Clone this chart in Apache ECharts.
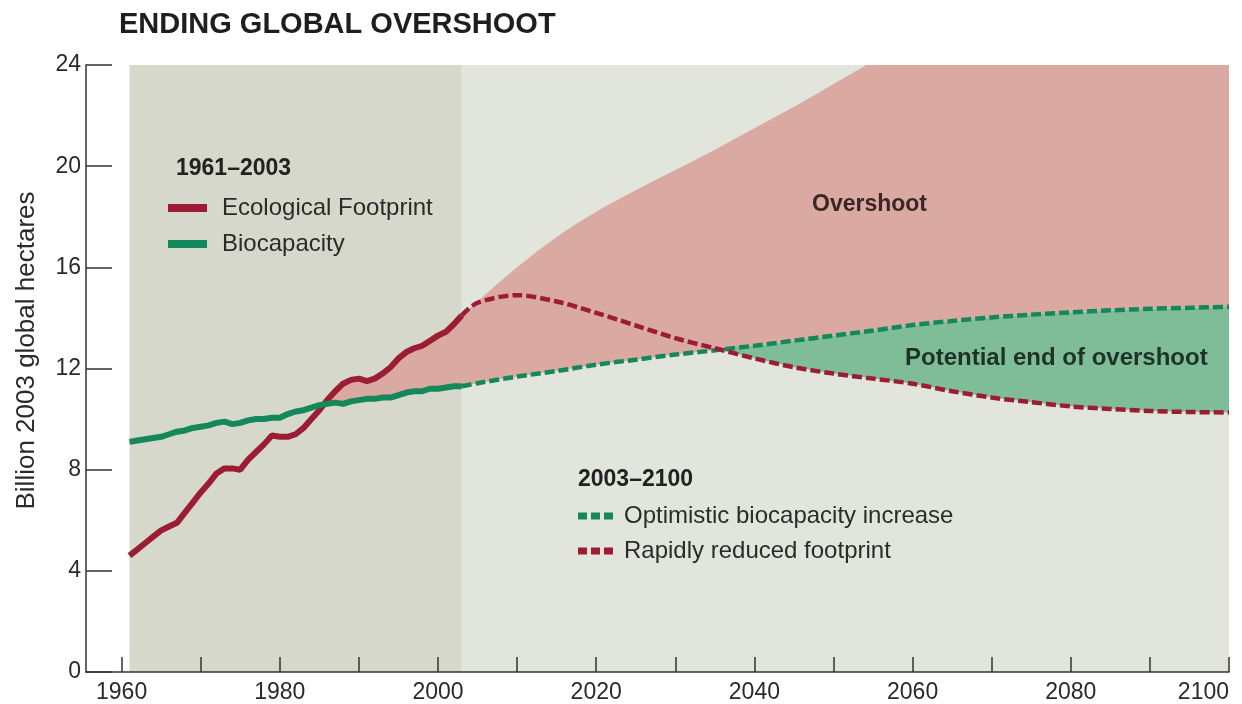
<!DOCTYPE html>
<html><head><meta charset="utf-8">
<script src="https://cdn.jsdelivr.net/npm/echarts@6/dist/echarts.min.js"></script>
<style>html,body{margin:0;padding:0;background:#fff}#c{width:1242px;height:704px}</style>
</head><body><div id="c"></div>
<script>
// ---- data ----
const histYears = [1961,1962,1963,1964,1965,1966,1967,1968,1969,1970,1971,1972,1973,1974,1975,1976,1977,1978,1979,1980,1981,1982,1983,1984,1985,1986,1987,1988,1989,1990,1991,1992,1993,1994,1995,1996,1997,1998,1999,2000,2001,2002,2003];
const footprintHist = [4.6,4.85,5.1,5.35,5.6,5.75,5.9,6.3,6.7,7.1,7.45,7.85,8.05,8.05,8.0,8.4,8.7,9.0,9.35,9.3,9.3,9.4,9.65,10.0,10.35,10.75,11.1,11.4,11.55,11.6,11.5,11.6,11.8,12.05,12.4,12.65,12.8,12.9,13.1,13.3,13.45,13.75,14.1];
const biocapacityHist = [9.1,9.15,9.2,9.25,9.3,9.4,9.5,9.55,9.65,9.7,9.75,9.85,9.9,9.8,9.85,9.95,10.0,10.0,10.05,10.05,10.2,10.3,10.35,10.45,10.55,10.6,10.65,10.6,10.7,10.75,10.8,10.8,10.85,10.85,10.95,11.05,11.1,11.1,11.2,11.2,11.25,11.3,11.3];
const projYears = [2003,2005,2010,2015,2020,2025,2030,2035,2040,2045,2050,2055,2060,2065,2070,2075,2080,2085,2090,2095,2100];
const footprintReduced = [14.1,14.6,14.9,14.65,14.2,13.7,13.2,12.8,12.4,12.05,11.8,11.6,11.4,11.1,10.85,10.67,10.5,10.4,10.32,10.28,10.26];
const biocapacityOptimistic = [11.3,11.42,11.68,11.9,12.15,12.35,12.55,12.72,12.9,13.1,13.3,13.5,13.72,13.88,14.02,14.13,14.22,14.3,14.36,14.4,14.44];
const footprintBusinessAsUsual = [14.1,14.65,16.0,17.2,18.2,19.05,19.85,20.65,21.5,22.35,23.25,24.15,25.05,25.95,26.85,27.75,28.65,29.55,30.45,31.35,32.25];
const periodBounds = [1961, 2003, 2100];
const xTickYears = [1960,1970,1980,1990,2000,2010,2020,2030,2040,2050,2060,2070,2080,2090,2100];
const xLabelYears = [1960,1980,2000,2020,2040,2060,2080,2100];
const yTicks = [0,4,8,12,16,20,24];

// ---- build ----
const FONT = 'Liberation Sans, Arial, Helvetica, sans-serif';
const RED = '#9b1c33', GREEN = '#14885b';
const PERIOD_COLORS = ['#d5d8ca', '#e2e5dc'];
const pair = (xs, ys) => xs.map((x, i) => [x, ys[i]]);
const allYears = histYears.concat(projYears.slice(1));
const bioAll = biocapacityHist.concat(biocapacityOptimistic.slice(1));
const upperAll = footprintHist.concat(footprintBusinessAsUsual.slice(1));
// rows: [year, lower, upper]
const overshootBand = allYears.map((x, i) => [x, bioAll[i], Math.max(bioAll[i], upperAll[i])]);
const endBand = projYears.map((x, i) => [x, footprintReduced[i], Math.max(footprintReduced[i], biocapacityOptimistic[i])]);
const periods = [[periodBounds[0], periodBounds[1]], [periodBounds[1], periodBounds[2]]];
const yMin = yTicks[0], yMax = yTicks[yTicks.length - 1];

function clipRect(params) {
  const cs = params.coordSys;
  return { type: 'rect', shape: { x: cs.x, y: cs.y, width: cs.width, height: cs.height } };
}
// monotone-in-x cubic Hermite curve through pixel points
function smoothSegments(pts) {
  const n = pts.length, m = [];
  for (let i = 0; i < n; i++) {
    const a = pts[Math.max(0, i - 1)], b = pts[Math.min(n - 1, i + 1)];
    m.push((b[1] - a[1]) / (b[0] - a[0]));
  }
  let d = '';
  for (let i = 0; i < n - 1; i++) {
    const p = pts[i], q = pts[i + 1], h = (q[0] - p[0]) / 3;
    d += ' C' + (p[0] + h) + ',' + (p[1] + m[i] * h) + ' ' + (q[0] - h) + ',' + (q[1] - m[i + 1] * h) + ' ' + q[0] + ',' + q[1];
  }
  return d;
}
function bandRenderer(color, smoothTop) {
  return function (params, api) {
    if (params.dataIndexInside !== 0) return null;
    const n = params.dataInsideLength;
    const top = [], bot = [];
    for (let j = 0; j < n; j++) {
      const x = api.value(0, j);
      bot.push(api.coord([x, api.value(1, j)]));
      top.push(api.coord([x, api.value(2, j)]));
    }
    if (!smoothTop) {
      return { type: 'polygon', clipPath: clipRect(params), shape: { points: top.concat(bot.reverse()) },
        style: { fill: color, stroke: null } };
    }
    let d = 'M' + top[0][0] + ',' + top[0][1] + smoothSegments(top);
    for (let j = n - 1; j >= 0; j--) d += ' L' + bot[j][0] + ',' + bot[j][1];
    d += ' Z';
    return { type: 'path', clipPath: clipRect(params), shape: { pathData: d }, style: { fill: color, stroke: null } };
  };
}

const chart = echarts.init(document.getElementById('c'));
chart.setOption({
  animation: false,
  backgroundColor: '#ffffff',
  title: { text: 'ENDING GLOBAL OVERSHOOT', left: 119, top: 10, padding: 0,
    textStyle: { fontSize: 29, fontWeight: 'bold', color: '#1e1e1e', fontFamily: FONT } },
  grid: { left: 86, right: 13, top: 65, bottom: 32, containLabel: false, outerBoundsMode: 'none' },
  xAxis: {
    type: 'value', min: 1955.5, max: 2100,
    axisLine: { show: true, lineStyle: { color: '#333', width: 1.5 } },
    axisTick: { show: true, inside: true, length: 15, customValues: xTickYears, lineStyle: { color: '#333', width: 1.5 } },
    axisLabel: { customValues: xLabelYears, fontSize: 23, color: '#2a2a2a', margin: 9, fontFamily: FONT,
      formatter: v => String(v), alignMaxLabel: 'right' },
    splitLine: { show: false }
  },
  yAxis: {
    type: 'value', min: yMin, max: yMax, interval: 4,
    name: 'Billion 2003 global hectares', nameLocation: 'middle', nameGap: 46,
    nameTextStyle: { fontSize: 26, color: '#2a2a2a', fontFamily: FONT, padding: [0, 0, 0, 36] },
    axisLine: { show: true, lineStyle: { color: '#333', width: 1.5 } },
    axisTick: { show: true, inside: true, length: 26, lineStyle: { color: '#333', width: 1.5 } },
    axisLabel: { fontSize: 23, color: '#2a2a2a', margin: 5, fontFamily: FONT },
    splitLine: { show: false }
  },
  legend: [
    { data: ['Ecological Footprint', 'Biocapacity'], orient: 'vertical', left: 168, top: 196, padding: 0,
      icon: 'rect', itemWidth: 39, itemHeight: 8, itemGap: 12, selectedMode: false,
      itemStyle: { borderWidth: 0 },
      textStyle: { fontSize: 24, color: '#2b2b2b', fontFamily: FONT, padding: [0, 0, 0, 10] } },
    { data: ['Optimistic biocapacity increase', 'Rapidly reduced footprint'], orient: 'vertical', left: 578, top: 504, padding: 0,
      icon: 'path://M0,0h9v7h-9z M13,0h9v7h-9z M26,0h9v7h-9z', itemWidth: 35, itemHeight: 7, itemGap: 11, selectedMode: false,
      itemStyle: { borderWidth: 0 },
      textStyle: { fontSize: 24, color: '#2b2b2b', fontFamily: FONT, padding: [0, 0, 0, 6] } }
  ],
  graphic: [
    { type: 'text', left: 176, top: 157, z: 100, style: { text: '1961–2003', font: 'bold 23px ' + FONT, fill: '#222' } },
    { type: 'text', left: 578, top: 468, z: 100, style: { text: '2003–2100', font: 'bold 23px ' + FONT, fill: '#222' } },
    { type: 'text', left: 812, top: 193, z: 100, style: { text: 'Overshoot', font: 'bold 23px ' + FONT, fill: '#3a2626' } },
    { type: 'text', left: 905, top: 346, z: 100, style: { text: 'Potential end of overshoot', font: 'bold 24px ' + FONT, fill: '#1d3326' } }
  ],
  series: [
    { name: 'periods', type: 'custom', data: periods, encode: { x: [0, 1] }, z: 0, silent: true,
      renderItem: function (params, api) {
        const p0 = api.coord([api.value(0), yMax]);
        const p1 = api.coord([api.value(1), yMin]);
        return { type: 'rect', shape: { x: p0[0], y: p0[1], width: p1[0] - p0[0], height: p1[1] - p0[1] },
          style: { fill: PERIOD_COLORS[params.dataIndex], stroke: null } };
      } },
    { name: 'Overshoot', type: 'custom', data: overshootBand, encode: { x: 0, y: [1, 2] }, z: 1, silent: true,
      renderItem: bandRenderer('#daa9a1', true) },
    { name: 'Potential end of overshoot', type: 'custom', data: endBand, encode: { x: 0, y: [1, 2] }, z: 1, silent: true,
      renderItem: bandRenderer('#7fbd98', false) },
    { name: 'Ecological Footprint', type: 'line', data: pair(histYears, footprintHist), symbol: 'none', color: RED, z: 4,
      lineStyle: { color: RED, width: 6 }, silent: true },
    { name: 'Biocapacity', type: 'line', data: pair(histYears, biocapacityHist), symbol: 'none', color: GREEN, z: 4,
      lineStyle: { color: GREEN, width: 6 }, silent: true },
    { name: 'Optimistic biocapacity increase', type: 'line', data: pair(projYears, biocapacityOptimistic), smooth: 0.3, symbol: 'none', color: GREEN, z: 3,
      lineStyle: { color: GREEN, width: 4.5, type: [10, 4] }, silent: true },
    { name: 'Rapidly reduced footprint', type: 'line', data: pair(projYears, footprintReduced), smooth: 0.3, symbol: 'none', color: RED, z: 3,
      lineStyle: { color: RED, width: 4.5, type: [10, 4] }, silent: true }
  ]
});
</script></body></html>
